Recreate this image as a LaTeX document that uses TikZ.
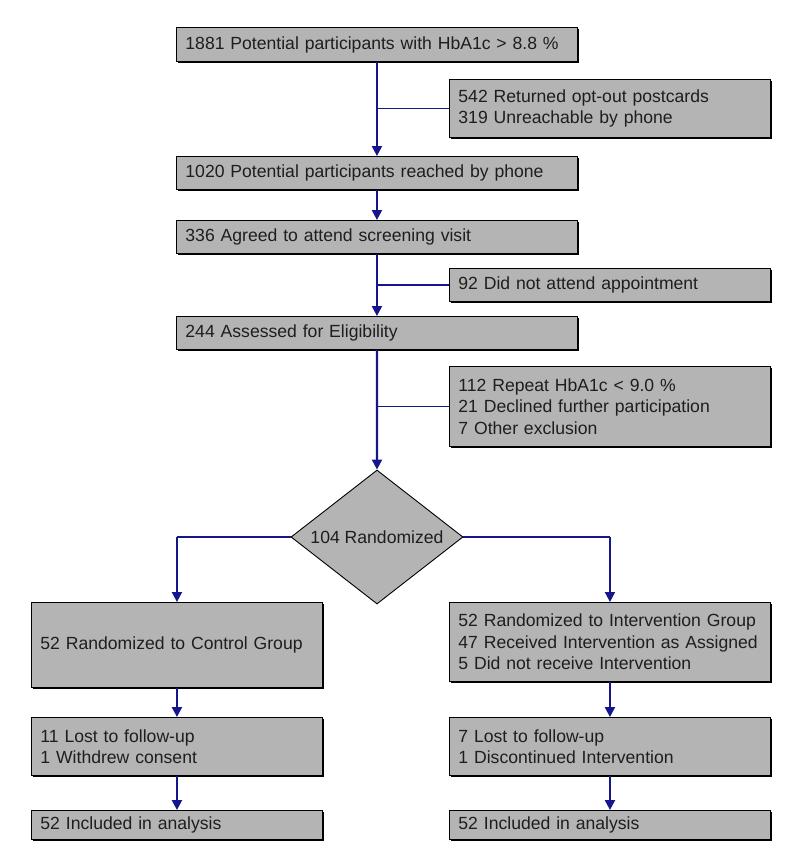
\documentclass[tikz,border=0pt]{standalone}
\usepackage{fontspec}
\setmainfont{Liberation Sans}
\usetikzlibrary{arrows.meta,shapes.geometric,shadows}
\definecolor{boxgray}{RGB}{180,180,180}
\definecolor{txt}{RGB}{30,30,30}
\definecolor{navy}{RGB}{22,22,140}
\tikzset{
  box/.style={rectangle, draw=black, line width=0.9pt, fill=boxgray, text=txt,
    inner xsep=9pt, inner ysep=0pt, align=left, anchor=north west,
    font=\fontsize{17.6}{21.5}\selectfont,
    drop shadow={shadow xshift=1.2pt, shadow yshift=-1.2pt, fill=black, opacity=1}},
  decision/.style={diamond, draw=black, line width=0.9pt, fill=boxgray, text=txt,
    inner sep=0pt, aspect=1.284, minimum width=172pt, minimum height=134pt,
    font=\fontsize{17.6}{21.5}\selectfont},
  mainln/.style={draw=navy, line width=2.2pt, -{Triangle[width=10pt,length=10pt]}},
  branch/.style={draw=navy, line width=1.3pt}
}
\begin{document}
\begin{tikzpicture}[x=1pt,y=-1pt]
\useasboundingbox (0,0) rectangle (800,863);
\fill[white] (0,0) rectangle (800,863);
% main column
\node[box, minimum width=401pt, minimum height=34pt, text width=383pt] (b1) at (176,27) {1881 Potential participants with HbA1c > 8.8 \%};
\node[box, minimum width=321pt, minimum height=58pt, text width=303pt] (s1) at (449,79) {542 Returned opt-out postcards\\319 Unreachable by phone};
\node[box, minimum width=401pt, minimum height=33pt, text width=383pt] (b2) at (176,156) {1020 Potential participants reached by phone};
\node[box, minimum width=401pt, minimum height=33pt, text width=383pt] (b3) at (176,220) {336 Agreed to attend screening visit};
\node[box, minimum width=321pt, minimum height=33pt, text width=303pt] (s2) at (449,268) {92 Did not attend appointment};
\node[box, minimum width=401pt, minimum height=33pt, text width=383pt] (b4) at (176,316) {244 Assessed for Eligibility};
\node[box, minimum width=321pt, minimum height=80pt, text width=303pt] (s3) at (449,366) {112 Repeat HbA1c < 9.0 \%\\21 Declined further participation\\7 Other exclusion};
\node[decision] (D) at (377,537) {104 Randomized};
% arms
\node[box, minimum width=291pt, minimum height=85pt, text width=273pt] (L1) at (31,602) {52 Randomized to Control Group};
\node[box, minimum width=321pt, minimum height=79pt, text width=303pt] (R1) at (449,602) {52 Randomized to Intervention Group\\47 Received Intervention as Assigned\\5 Did not receive Intervention};
\node[box, minimum width=291pt, minimum height=58pt, text width=273pt] (L2) at (31,717) {11 Lost to follow-up\\1 Withdrew consent};
\node[box, minimum width=321pt, minimum height=58pt, text width=303pt] (R2) at (449,717) {7 Lost to follow-up\\1 Discontinued Intervention};
\node[box, minimum width=291pt, minimum height=29pt, text width=273pt] (L3) at (31,810) {52 Included in analysis};
\node[box, minimum width=321pt, minimum height=29pt, text width=303pt] (R3) at (449,810) {52 Included in analysis};
% connectors
\draw[mainln] (b1.south) -- (b2.north);
\draw[branch] (s1.west) -- (s1.west -| b1.south);
\draw[mainln] (b2.south) -- (b3.north);
\draw[mainln] (b3.south) -- (b4.north);
\draw[branch] (s2.west) -- (s2.west -| b3.south);
\draw[mainln] (b4.south) -- (D.north);
\draw[branch] (s3.west) -- (s3.west -| b4.south);
\coordinate (cl) at (L1.north |- D.west);
\coordinate (cr) at (R1.north |- D.east);
\draw[branch] (D.west) -- (cl);
\draw[branch] (D.east) -- (cr);
\draw[mainln, line width=1.8pt] (cl) -- (L1.north);
\draw[mainln, line width=1.8pt] (cr) -- (R1.north);
\draw[mainln] (L1.south) -- (L2.north);
\draw[mainln] (L2.south) -- (L3.north);
\draw[mainln] (R1.south) -- (R2.north);
\draw[mainln] (R2.south) -- (R3.north);
\end{tikzpicture}
\end{document}
